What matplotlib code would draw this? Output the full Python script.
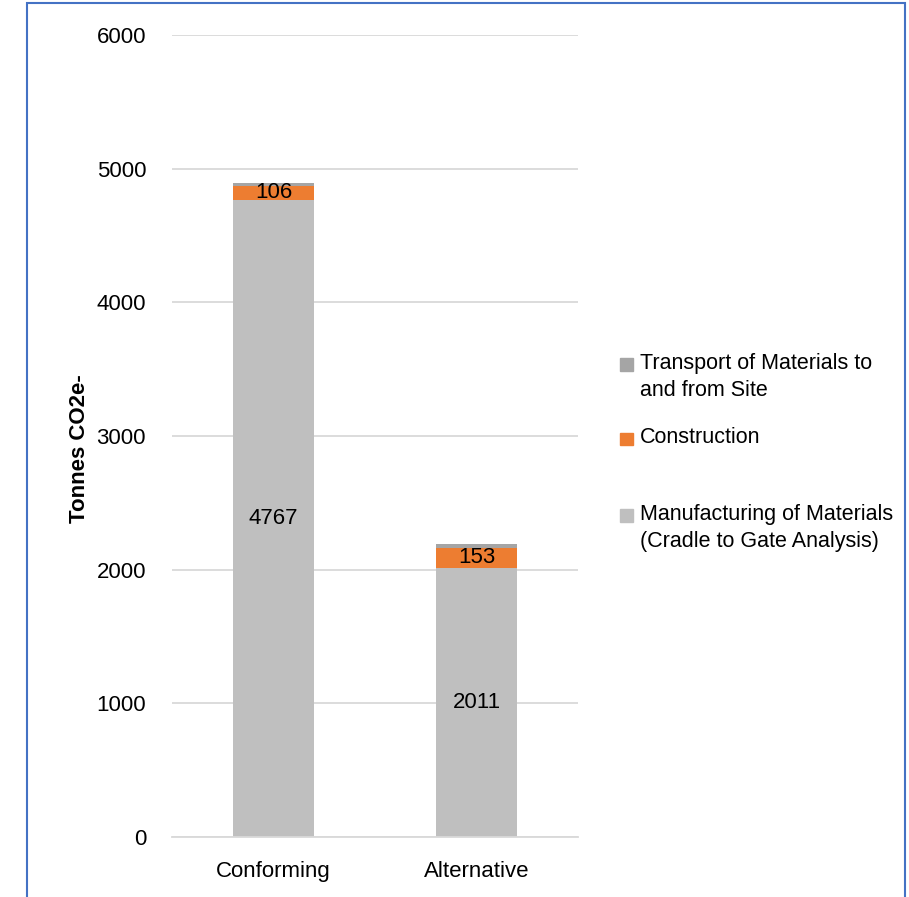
import matplotlib
matplotlib.use("Agg")
import matplotlib.pyplot as plt
from matplotlib.patches import Rectangle
import numpy as np

# ── Datos ──────────────────────────────────────────────────────────────────────
categorias = ["Conforming", "Alternative"]
manufactura = [4767, 2011]
construccion = [106, 153]
transporte = [20, 30]

series = [
    "Manufacturing of Materials\n(Cradle to Gate Analysis)",
    "Construction",
    "Transport of Materials to\nand from Site",
]
colores = ["#BFBFBF", "#ED7D31", "#A5A5A5"]

plt.rcParams["font.family"] = ["Liberation Sans Narrow", "Liberation Sans", "DejaVu Sans"]
FS = 16
FS_LEG = 15.5

fig = plt.figure(figsize=(9.09, 8.97), dpi=100)
ax = fig.add_axes([0.189, 0.0669, 0.447, 0.894])

x = np.arange(len(categorias))
w = 0.40
b1 = ax.bar(x, manufactura, w, color=colores[0], zorder=2)
b2 = ax.bar(x, construccion, w, bottom=manufactura, color=colores[1], zorder=2)
base3 = np.array(manufactura) + np.array(construccion)
b3 = ax.bar(x, transporte, w, bottom=base3, color=colores[2], zorder=2)

ax.bar_label(b1, labels=[str(v) for v in manufactura], label_type="center", fontsize=FS)
ax.bar_label(b2, labels=[str(v) for v in construccion], label_type="center", fontsize=FS)

ax.set_xlim(-0.5, 1.5)
ax.set_ylim(0, 6000)
ax.set_yticks(np.arange(0, 6001, 1000))
ax.set_xticks(x)
ax.set_xticklabels(categorias, fontsize=FS)
ax.tick_params(axis="y", labelsize=FS, length=0, pad=18.5)
ax.tick_params(axis="x", length=0, pad=17)
ax.yaxis.grid(True, color="#D9D9D9", linewidth=1.3, zorder=0)
ax.set_axisbelow(True)
for s in ["top", "right", "left"]:
    ax.spines[s].set_visible(False)
ax.spines["bottom"].set_color("#D9D9D9")
ax.spines["bottom"].set_linewidth(1.3)

fig.text(0.087, 0.5, "Tonnes CO2e-", rotation=90, fontsize=FS, fontweight="bold",
         ha="center", va="center")

# Leyenda manual (espaciado irregular como en Excel)
W, H = 909, 897
entradas = [(series[2], colores[2], 377), (series[1], colores[1], 437), (series[0], colores[0], 528)]
for texto, col, yc in entradas:
    n = texto.count("\n") + 1
    y_sq = yc - (n - 1) * 15 + 2
    fig.patches.append(Rectangle((620 / W, 1 - (y_sq + 6.5) / H), 13 / W, 13 / H,
                                 transform=fig.transFigure, color=col))
    fig.text(640 / W, 1 - yc / H, texto, fontsize=FS_LEG, va="center", ha="left",
             linespacing=1.4)

# Borde azul
fig.patches.append(Rectangle((27 / W, -0.05), (905 - 27) / W, 1.05 - 3 / H,
                             transform=fig.transFigure, fill=False,
                             edgecolor="#4472C4", linewidth=1.5, clip_on=False))

fig.savefig("out.png", dpi=100)
